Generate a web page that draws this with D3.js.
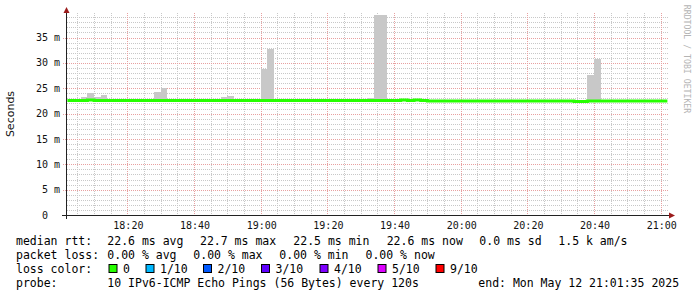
<!DOCTYPE html>
<html><head><meta charset="utf-8">
<script src="https://cdn.jsdelivr.net/npm/d3@7/dist/d3.min.js"></script>
<style>
html,body{margin:0;padding:0;background:#fff;}
svg{display:block;}
text{white-space:pre;}
</style></head>
<body><svg id="c" width="697" height="297"></svg>
<script>
// ---- data ----
const startTime = "2025-05-12T18:02:00Z";   // first sample step start
const stepSeconds = 120;
const medianRtt = [
 22.6,22.6,22.6,22.7,22.6,22.6,22.6,22.6,22.6,22.6,
 22.6,22.6,22.6,22.6,22.6,22.6,22.6,22.6,22.6,22.6,
 22.6,22.6,22.6,22.6,22.6,22.6,22.6,22.6,22.6,22.6,
 22.6,22.6,22.6,22.6,22.6,22.6,22.6,22.6,22.6,22.6,
 22.6,22.6,22.6,22.6,22.6,22.6,22.6,22.6,22.6,22.6,
 22.7,22.6,22.7,22.6,22.5,22.5,22.5,22.5,22.5,22.5,
 22.5,22.5,22.5,22.5,22.5,22.5,22.5,22.5,22.5,22.5,
 22.5,22.5,22.5,22.5,22.5,22.5,22.4,22.4,22.5,22.5,
 22.5,22.5,22.5,22.5,22.5,22.5,22.5,22.5,22.5,22.5
];
const smokeMax = [
 null,null,23.3,24.1,23.3,23.7,null,null,null,null,
 null,null,null,24.3,25.0,null,null,null,null,null,
 null,null,null,23.2,23.5,null,null,null,null,28.8,
 32.7,null,null,null,null,null,null,null,null,null,
 null,null,null,null,null,23.1,39.4,39.4,null,null,
 null,null,null,null,null,null,null,null,null,null,
 null,null,null,null,null,null,null,null,null,null,
 null,null,null,null,null,null,null,null,27.6,30.8,
 null,null,null,null,null,null,null,null,null,null
];
const yTickValues = [0,5,10,15,20,25,30,35];
const yTickLabels = ["0  ","5 m","10 m","15 m","20 m","25 m","30 m","35 m"];
const xTickLabels = ["18:20","18:40","19:00","19:20","19:40","20:00","20:20","20:40","21:00"];
const lossColors = ["#26ff00","#00b8ff","#0059ff","#5e00ff","#7e00ff","#dd00ff","#ff0000"];
const lossLabels = ["0","1/10","2/10","3/10","4/10","5/10","9/10"];
const legendRtt = ["22.6 ms avg","22.7 ms max","22.5 ms min","22.6 ms now","0.0 ms sd","1.5 k am/s"];
const legendLoss = ["0.00 % avg","0.00 % max","0.00 % min","0.00 % now"];
const probeText = "10 IPv6-ICMP Echo Pings (56 Bytes) every 120s";
const endText = "end: Mon May 12 21:01:35 2025";

// ---- scales ----
const svg = d3.select("#c");
const t0 = new Date("2025-05-12T18:01:35Z"), t1 = new Date("2025-05-12T21:01:35Z");
const x = d3.scaleUtc().domain([t0,t1]).range([66,666]);
const y = d3.scaleLinear().domain([0,35]).range([215,37.5]);
const st = new Date(startTime).getTime();
const rows = medianRtt.map((m,i)=>({t0:new Date(st+i*stepSeconds*1000), t1:new Date(st+(i+1)*stepSeconds*1000), med:m, max:smokeMax[i]}));

const gridTop = 13, gridLeft = 63, gridRight = 669;
const mono = "'DejaVu Sans Mono', monospace";

// ---- grid ----
const g = svg.append("g");
d3.range(1,40).filter(v=>v%5!==0).forEach(v=>{
  g.append("line").attr("x1",67).attr("x2",gridRight).attr("y1",Math.round(y(v))+0.5).attr("y2",Math.round(y(v))+0.5)
   .attr("stroke","#c8c8c8").attr("stroke-dasharray","1,1");
});
const minorTimes = d3.utcMinute.every(5).range(t0,t1);
minorTimes.filter(d=>d.getUTCMinutes()%20!==0).forEach(d=>{
  const xx = Math.round(x(d))+0.5;
  g.append("line").attr("x1",xx).attr("x2",xx).attr("y1",gridTop).attr("y2",215)
   .attr("stroke","#c8c8c8").attr("stroke-dasharray","1,1");
});
yTickValues.slice(1).forEach(v=>{
  g.append("line").attr("x1",gridLeft).attr("x2",gridRight).attr("y1",Math.round(y(v))+0.5).attr("y2",Math.round(y(v))+0.5)
   .attr("stroke","#e8a0a0").attr("stroke-dasharray","1,1");
});
const parseHM = s=>{const [h,m]=s.split(":").map(Number); return new Date(Date.UTC(2025,4,12,h,m));};
xTickLabels.forEach(s=>{
  const xx = Math.round(x(parseHM(s)))+0.5;
  g.append("line").attr("x1",xx).attr("x2",xx).attr("y1",gridTop).attr("y2",215)
   .attr("stroke","#e8a0a0").attr("stroke-dasharray","1,1");
});

// ---- smoke ----
svg.append("g").selectAll("rect").data(rows.filter(r=>r.max!=null)).join("rect")
  .attr("x",d=>x(d.t0)).attr("width",d=>x(d.t1)-x(d.t0))
  .attr("y",d=>y(d.max)).attr("height",d=>y(d.med)-y(d.max))
  .attr("fill","#c8c8c8").attr("shape-rendering","crispEdges");

// ---- median line ----
const pts = rows.map(r=>[x(r.t0),y(r.med)]);
pts.push([x(rows[rows.length-1].t1), y(rows[rows.length-1].med)]);
svg.append("path").attr("d",d3.line().curve(d3.curveStepAfter)(pts))
  .attr("fill","none").attr("stroke",lossColors[0]).attr("stroke-width",3);

// ---- axes ----
svg.append("line").attr("x1",62).attr("x2",670).attr("y1",215.5).attr("y2",215.5).attr("stroke","#222");
svg.append("line").attr("x1",66.5).attr("x2",66.5).attr("y1",10).attr("y2",219).attr("stroke","#222");
svg.append("path").attr("d","M66.5,7 L63.5,13 L69.5,13 Z").attr("fill","#9b1c1c");
svg.append("path").attr("d","M675,215.5 L669,212.5 L669,218.5 Z").attr("fill","#9b1c1c");

svg.append("g").selectAll("text").data(yTickValues).join("text")
  .attr("x",60).attr("y",d=>y(d)).attr("dy","0.36em").attr("text-anchor","end")
  .attr("font-family",mono).attr("font-size","10px").attr("fill","#111")
  .text((d,i)=>yTickLabels[i]);
svg.append("g").selectAll("text").data(xTickLabels).join("text")
  .attr("x",d=>x(parseHM(d))+1).attr("y",229).attr("text-anchor","middle")
  .attr("font-family",mono).attr("font-size","10px").attr("fill","#111")
  .text(d=>d);

svg.append("text").attr("transform","translate(14,114) rotate(-90)").attr("text-anchor","middle")
  .attr("font-family","'DejaVu Sans', sans-serif").attr("font-size","11px").attr("fill","#111").text("Seconds");
svg.append("text").attr("transform","translate(684,59) rotate(90)").attr("text-anchor","middle")
  .attr("font-family",mono).attr("font-size","8.2px").attr("fill","#b4b4b4").text("RRDTOOL / TOBI OETIKER");

// ---- legend ----
const lg = svg.append("g").attr("font-family",mono).attr("font-size","11.5px").attr("fill","#000");
const L = [245,259,273,287];
lg.append("text").attr("x",16).attr("y",L[0]).text("median rtt:");
const rttX = [107.3,200,293.3,386.7,479.3,558.3];
legendRtt.forEach((s,i)=>lg.append("text").attr("x",rttX[i]).attr("y",L[0]).text(s));
lg.append("text").attr("x",16).attr("y",L[1]).text("packet loss:");
const lossX = [107.3,193.3,279.3,365.5];
legendLoss.forEach((s,i)=>lg.append("text").attr("x",lossX[i]).attr("y",L[1]).text(s));
lg.append("text").attr("x",16).attr("y",L[2]).text("loss color:");
const boxX = [108.5,145.5,203,261,319.5,377.5,435.5];
lossLabels.forEach((s,i)=>{
  lg.append("rect").attr("x",boxX[i]+0.5).attr("y",264.5).attr("width",8).attr("height",8)
    .attr("fill",lossColors[i]).attr("stroke","#000").attr("stroke-width",1);
  lg.append("text").attr("x",boxX[i]+14.5).attr("y",L[2]).text(s);
});
lg.append("text").attr("x",16).attr("y",L[3]).text("probe:");
lg.append("text").attr("x",107.3).attr("y",L[3]).text(probeText);
lg.append("text").attr("x",478.3).attr("y",L[3]).text(endText);
</script></body></html>
